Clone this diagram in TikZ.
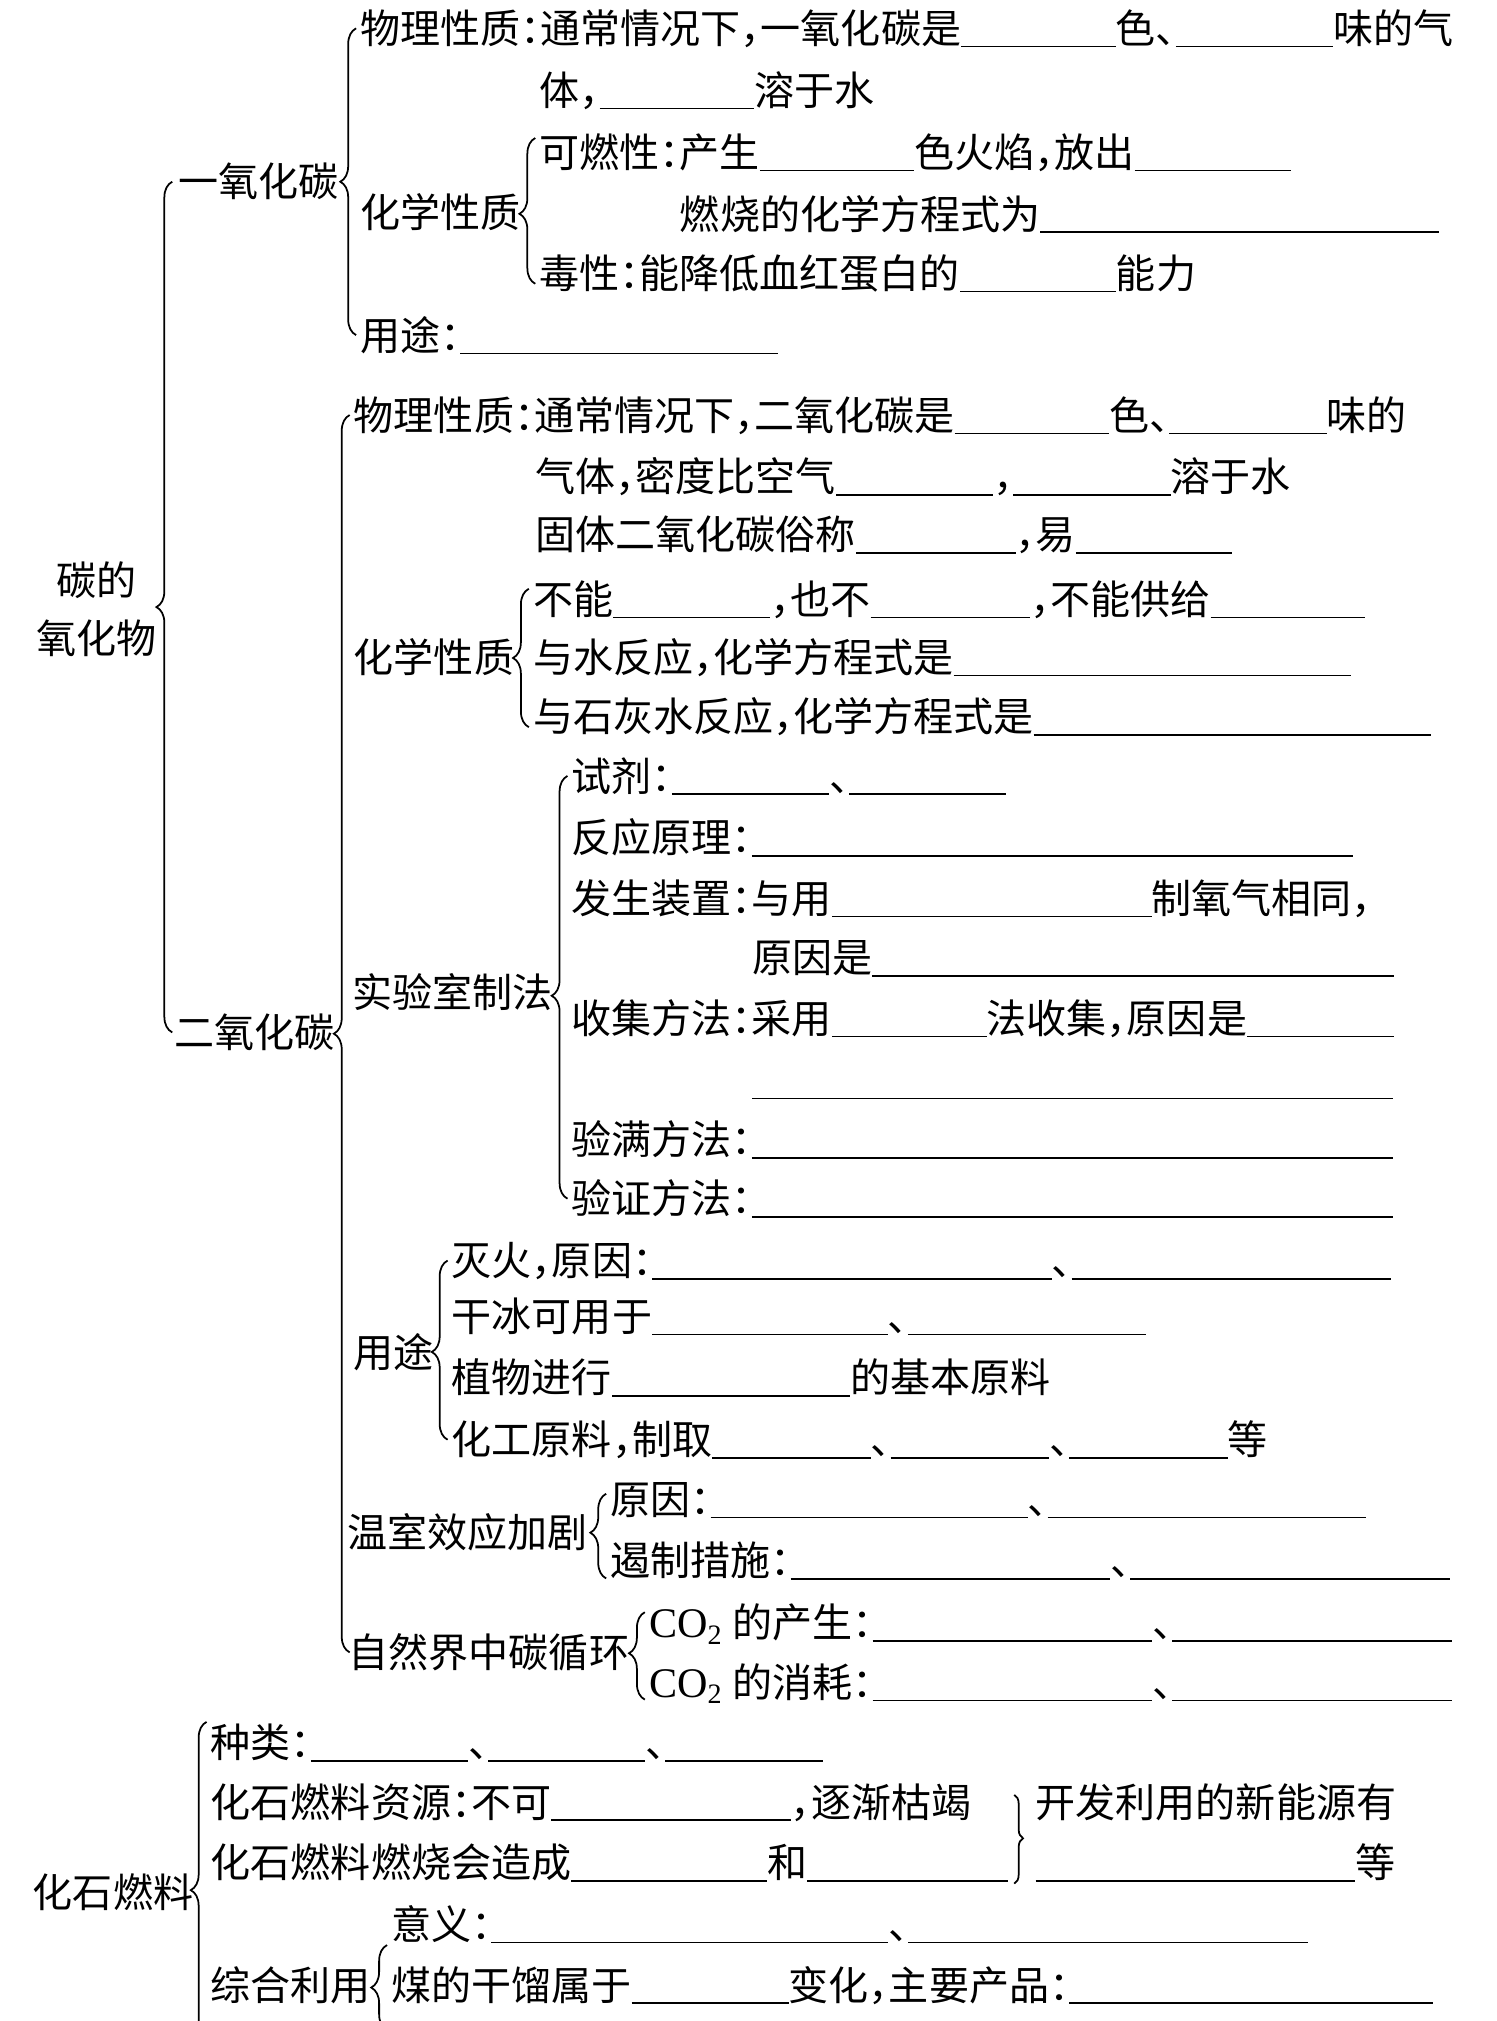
\documentclass[tikz,border=0pt]{standalone}
\usepackage{fontspec}
\setmainfont{Noto Sans CJK SC}[RawFeature=+halt]
\newfontfamily\latinfont{Liberation Serif}
\usetikzlibrary{decorations.pathreplacing}
\newlength\unitpx
\setlength\unitpx{0.012894cm}
\newcommand\blank[1]{\rule[-0.1em]{#1\unitpx}{0.45pt}}
\newcommand\cotwo{{\latinfont\fontsize{12pt}{12pt}\selectfont CO\textsubscript{2}}}
\tikzset{
  entry/.style={anchor=west, inner sep=0pt, text height=10pt, text depth=1.4pt},
  left brace/.style={decorate, line width=0.5pt, decoration={brace, amplitude=4.5pt, aspect=#1}},
  left brace/.default=0.5,
  right brace/.style={decorate, line width=0.5pt, decoration={brace, amplitude=2.5pt, aspect=#1}},
  right brace/.default=0.5,
}

\begin{document}
\begin{tikzpicture}[x=0.012894cm, y=-0.012894cm,
  every node/.style={font=\fontsize{11.4pt}{13pt}\selectfont}]
  \useasboundingbox (0,0) rectangle (1161,1568);
  \clip (0,0) rectangle (1161,1568);

  \node[entry] (ox1) at (43,450) {碳的};
  \node[entry] (ox2) at (28,495) {氧化物};
  \node[entry] (co)  at (138,141) {一氧化碳};
  \node[entry] (co2) at (135,801) {二氧化碳};
  \draw[left brace] ([xshift=-0.5pt]co2.west) -- ([xshift=-0.5pt]co2.west |- co.west);

  \node[entry] (co-phys)  at (279,22)  {物理性质：通常情况下，一氧化碳是\blank{120}色、\blank{122}味的气};
  \node[entry] (co-phys2) at (418,70)  {体，\blank{120}溶于水};
  \node[entry] (co-chem)  at (279,165) {化学性质};
  \node[entry] (co-comb)  at (418,118) {可燃性：产生\blank{120}色火焰，放出\blank{121}};
  \node[entry] (co-eq)    at (527,166) {燃烧的化学方程式为\blank{309}};
  \node[entry] (co-tox)   at (418,212) {毒性：能降低血红蛋白的\blank{121}能力};
  \node[entry] (co-use)   at (279,260) {用途：\blank{246}};
  \draw[left brace] ([xshift=-1pt]co-use.west) -- ([xshift=-1pt]co-phys.west);
  \draw[left brace=0.48] ([xshift=-1pt,yshift=-3pt]co-tox.west) -- ([xshift=-1pt,yshift=4pt]co-comb.west);

  \node[entry] (co2-phys)  at (274,322) {物理性质：通常情况下，二氧化碳是\blank{120}色、\blank{122}味的};
  \node[entry] (co2-phys2) at (415,370) {气体，密度比空气\blank{122}，\blank{122}溶于水};
  \node[entry] (co2-phys3) at (415,415) {固体二氧化碳俗称\blank{124}，易\blank{121}};
  \node[entry] (co2-chem)  at (274,510) {化学性质};
  \node[entry] (co2-chem1) at (413,465) {不能\blank{122}，也不\blank{124}，不能供给\blank{120}};
  \node[entry] (co2-chem2) at (413,510) {与水反应，化学方程式是\blank{308}};
  \node[entry] (co2-chem3) at (413,556) {与石灰水反应，化学方程式是\blank{308}};
  \draw[left brace] ([xshift=-1pt,yshift=-3pt]co2-chem3.west) -- ([xshift=-1pt,yshift=3pt]co2-chem1.west);

  \node[entry] (lab)       at (273,770) {实验室制法};
  \node[entry] (lab-agent) at (443,602) {试剂：\blank{122}、\blank{122}};
  \node[entry] (lab-prin)  at (443,650) {反应原理：\blank{466}};
  \node[entry] (lab-app)   at (443,697) {发生装置：与用\blank{248}制氧气相同，};
  \node[entry] (lab-app2)  at (583,743) {原因是\blank{405}};
  \node[entry] (lab-col)   at (443,790) {收集方法：采用\blank{120}法收集，原因是\blank{114}};
  \node[entry] (lab-col2)  at (583,838) {\blank{497}};
  \node[entry] (lab-full)  at (443,884) {验满方法：\blank{497}};
  \node[entry] (lab-test)  at (443,930) {验证方法：\blank{497}};
  \draw[left brace=0.48] ([xshift=-1pt]lab-test.west) -- ([xshift=-1pt]lab-agent.west);

  \node[entry] (use)       at (274,1049) {用途};
  \node[entry] (use-fire)  at (350,978)  {灭火，原因：\blank{310}、\blank{248}};
  \node[entry] (use-ice)   at (350,1021) {干冰可用于\blank{183}、\blank{185}};
  \node[entry] (use-plant) at (350,1069) {植物进行\blank{185}的基本原料};
  \node[entry] (use-chem)  at (350,1117) {化工原料，制取\blank{123}、\blank{123}、\blank{123}等};
  \draw[left brace=0.49] ([xshift=-1pt]use-chem.west) -- ([xshift=-1pt]use-fire.west);

  \node[entry] (gh)       at (269,1189) {温室效应加剧};
  \node[entry] (gh-cause) at (473,1163) {原因：\blank{246}、\blank{247}};
  \node[entry] (gh-curb)  at (473,1211) {遏制措施：\blank{248}、\blank{248}};
  \draw[left brace=0.54] ([xshift=-1pt,yshift=-5pt]gh-curb.west) -- ([xshift=-1pt,yshift=1.5pt]gh-cause.west);

  \node[entry] (cyc)      at (270,1282) {自然界中碳循环};
  \node[entry] (cyc-src)  at (503,1259) {\cotwo{} 的产生：\blank{217}、\blank{217}};
  \node[entry] (cyc-sink) at (503,1305) {\cotwo{} 的消耗：\blank{217}、\blank{217}};
  \draw[left brace=0.53] ([xshift=-1pt,yshift=-5pt]cyc-sink.west) -- ([xshift=-1pt,yshift=3pt]cyc-src.west);

  \draw[left brace] ([xshift=-1pt]co2-phys.west |- cyc.west) -- ([xshift=-1pt]co2-phys.west);

  \node[entry] (fos)      at (25,1468)  {化石燃料};
  \node[entry] (fos-kind) at (163,1352) {种类：\blank{122}、\blank{122}、\blank{122}};
  \node[entry] (fos-res)  at (163,1398) {化石燃料资源：不可\blank{186}，逐渐枯竭};
  \node[entry] (fos-burn) at (163,1445) {化石燃料燃烧会造成\blank{152}和\blank{156}};
  \node[entry] (fos-new)  at (803,1398) {开发利用的新能源有};
  \node[entry] (fos-new2) at (803,1445) {\blank{248}等};
  \node[entry] (syn)      at (163,1540) {综合利用};
  \node[entry] (syn-mean) at (303,1493) {意义：\blank{308}、\blank{310}};
  \node[entry] (syn-coal) at (303,1540) {煤的干馏属于\blank{122}变化，主要产品：\blank{282}};
  \coordinate (fos-end) at (163,1597);
  \coordinate (syn-end) at (303,1575);
  \draw[left brace] ([xshift=-1pt]fos-end) -- ([xshift=-1pt]fos-kind.north west);
  \draw[left brace] ([xshift=-1pt]syn-end) -- ([xshift=-1pt]syn-mean.south west);
  \draw[right brace=0.49] ([xshift=1.5pt,yshift=2pt]fos-burn.east |- fos-res.west) -- ([xshift=1.5pt,yshift=-6pt]fos-burn.east);
\end{tikzpicture}
\end{document}
